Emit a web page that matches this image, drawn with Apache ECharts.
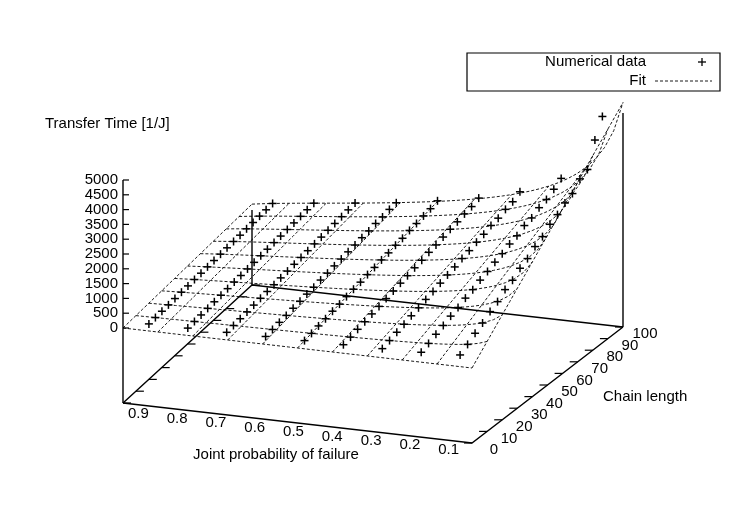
<!DOCTYPE html>
<html><head><meta charset="utf-8">
<script src="https://cdn.jsdelivr.net/npm/echarts@6/dist/echarts.min.js"></script>
<style>html,body{margin:0;padding:0;background:#fff}#c{width:750px;height:525px}</style>
</head><body><div id="c"></div>
<script>
// ---- data ----
var chainLengths = [5,10,15,20,25,30,35,40,45,50,55,60,65,70,75,80,85,90,95,100];
var probs = [0.9,0.8,0.7,0.6,0.5,0.4,0.3,0.2,0.1];
var t09 = [15,30,44,60,74,90,104,120,134,150,164,180,195,210,224,240,254,270,284,300];
var t08 = [23,47,70,93,117,140,163,187,210,233,257,280,303,327,350,373,397,420,444,467];
var t07 = [31,63,94,126,157,188,220,251,283,314,345,377,408,440,471,502,534,565,597,628];
var t06 = [41,79,122,158,203,238,284,317,363,398,445,478,524,556,606,637,690,712,770,795];
var t05 = [52,98,153,197,255,296,352,405,446,503,548,604,645,706,742,810,846,905,951,1020];
var t04 = [64,124,190,248,316,372,440,498,566,620,690,748,818,870,940,1005,1060,1130,1180,1270];
var t03 = [82,158,242,316,404,476,563,636,720,800,874,960,1030,1120,1190,1290,1340,1440,1500,1640];
var t02 = [110,212,325,425,545,640,760,850,975,1070,1190,1280,1410,1490,1640,1700,1850,1930,2080,2250];
var t01 = [170,330,510,660,850,990,1200,1320,1530,1660,1870,2010,2230,2360,2560,2680,2980,3100,3900,4500];
var series = [t09,t08,t07,t06,t05,t04,t03,t02,t01];
var xTicks = [0.9,0.8,0.7,0.6,0.5,0.4,0.3,0.2,0.1];
var yTicks = [0,10,20,30,40,50,60,70,80,90,100];
var zTicks = [0,500,1000,1500,2000,2500,3000,3500,4000,4500,5000];
// fit parameters: T = fitC * L * ((1-p)/p)^fitK
var fitC = 10, fitK = 0.55;
var pMin = 0.05, pMax = 0.95, Lmax = 100, zMax = 5000;

// ---- projection (screen geometry) ----
var FL=[123,403], FR=[472,443], BR=[623,327], BL=[252,285], zOff=75, zPx=148;
function proj(p,L,z){
  var u=(pMax-p)/(pMax-pMin), v=L/Lmax;
  var fx=FL[0]+(FR[0]-FL[0])*u, fy=FL[1]+(FR[1]-FL[1])*u;
  var bx=BL[0]+(BR[0]-BL[0])*u, by=BL[1]+(BR[1]-BL[1])*u;
  var x=fx+(bx-fx)*v, y=fy+(by-fy)*v;
  if(z!==null) y-= zOff + z/zMax*zPx;
  return [x,y];
}
function fit(p,L){return fitC*L*Math.pow((1-p)/p,fitK);}

var chart = echarts.init(document.getElementById('c'),null,{renderer:'canvas'});
var FONT='15px "Liberation Sans", Arial, sans-serif';
function render(params, api){
  var ch=[];
  function P(pt){return api.coord(pt);}
  function line(pts,dash,w){
    ch.push({type:'polyline',shape:{points:pts.map(P)},silent:true,
      style:{stroke:'#000',fill:null,lineWidth:w||1,lineDash:dash||null}});
  }
  function text(s,pt,align,vAlign){
    var c=P(pt);
    ch.push({type:'text',x:c[0],y:c[1],silent:true,style:{text:s,font:FONT,fill:'#000',align:align,verticalAlign:vAlign||'middle'}});
  }
  line([proj(pMax,0,null),proj(pMin,0,null),proj(pMin,Lmax,null)],null,1.4);
  line([proj(pMax,0,null),proj(pMax,Lmax,null),proj(pMin,Lmax,null)],null,1.4);
  line([proj(pMax,Lmax,null),proj(pMax,Lmax,0)],null,1.4);
  line([proj(pMin,Lmax,null),proj(pMin,Lmax,fit(pMin,Lmax)*0.93)],null,1.4);
  var zb=proj(pMax,0,null), zt=proj(pMax,0,zMax);
  line([zb,zt],null,1.4);
  zTicks.forEach(function(z){
    var a=proj(pMax,0,z); line([a,[a[0]+6,a[1]]],null,1.2);
    text(String(z),[a[0]-5,a[1]],'right');
  });
  yTicks.forEach(function(L){
    var r=proj(pMin,L,null), l=proj(pMax,L,null);
    line([r,[r[0]-8,r[1]]],null,1.2); line([l,[l[0]+8,l[1]]],null,1.2);
    text(String(L),[r[0]+22,r[1]+7],'center');
  });
  xTicks.forEach(function(p){
    var a=proj(p,0,null);
    text(String(p),[a[0]-4,a[1]+9],'center');
  });
  var nP=11, nL=11, i, j;
  for(i=0;i<nL;i++){
    var L=Lmax*i/(nL-1), pts=[];
    for(j=0;j<=40;j++){var p=pMax-(pMax-pMin)*j/40; pts.push(proj(p,L,fit(p,L)));}
    line(pts,[3,2],0.9);
  }
  for(i=0;i<nP;i++){
    var p=pMax-(pMax-pMin)*i/(nP-1), pts2=[];
    for(j=0;j<=20;j++){var L2=Lmax*j/20; pts2.push(proj(p,L2,fit(p,L2)));}
    line(pts2,[3,2],0.9);
  }
  for(i=0;i<probs.length;i++){
    for(j=0;j<chainLengths.length;j++){
      var c=P(proj(probs[i],chainLengths[j],series[i][j]));
      ch.push({type:'polyline',silent:true,shape:{points:[[c[0]-4,c[1]],[c[0]+4,c[1]]]},style:{stroke:'#000',lineWidth:1.5}});
      ch.push({type:'polyline',silent:true,shape:{points:[[c[0],c[1]-4],[c[0],c[1]+4]]},style:{stroke:'#000',lineWidth:1.5}});
    }
  }
  return {type:'group',children:ch};
}
chart.setOption({
  animation:false,
  grid:{left:0,right:0,top:0,bottom:0},
  xAxis:{type:'value',min:0,max:750,show:false},
  yAxis:{type:'value',min:0,max:525,inverse:true,show:false},
  series:[{type:'custom',renderItem:render,data:[[0,0]],clip:false}],
  graphic:[
    {type:'rect',shape:{x:467,y:53,width:253,height:38},style:{fill:null,stroke:'#000',lineWidth:1.2}},
    {type:'text',x:646,y:62,style:{text:'Numerical data',font:FONT,align:'right',verticalAlign:'middle'}},
    {type:'polyline',shape:{points:[[698,62],[706,62]]},style:{stroke:'#000',lineWidth:1.3}},
    {type:'polyline',shape:{points:[[702,58],[702,66]]},style:{stroke:'#000',lineWidth:1.3}},
    {type:'text',x:646,y:81,style:{text:'Fit',font:FONT,align:'right',verticalAlign:'middle'}},
    {type:'polyline',shape:{points:[[655,81],[712,81]]},style:{stroke:'#000',lineWidth:0.9,lineDash:[3,2]}},
    {type:'text',x:45,y:124,style:{text:'Transfer Time [1/J]',font:FONT,align:'left',verticalAlign:'middle'}},
    {type:'text',x:276,y:455,style:{text:'Joint probability of failure',font:FONT,align:'center',verticalAlign:'middle'}},
    {type:'text',x:603,y:397,style:{text:'Chain length',font:FONT,align:'left',verticalAlign:'middle'}}
  ]
});
</script></body></html>
